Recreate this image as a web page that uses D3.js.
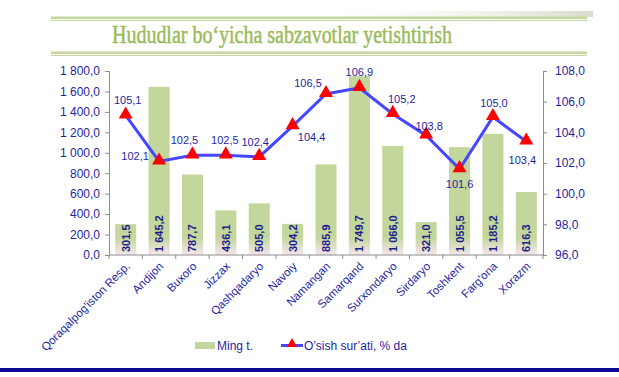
<!DOCTYPE html>
<html>
<head>
<meta charset="utf-8">
<script src="https://cdn.jsdelivr.net/npm/d3@7"></script>
<style>
  body { margin: 0; background: #fff; }
  svg { display: block; font-family: Arial, "Liberation Sans", sans-serif; }
</style>
</head>
<body>
<div id="chart"></div>
<script>
var svgWidth = 619;
var svgHeight = 377;

// data
var regions = ["Qoraqalpog'iston Resp.", "Andijon", "Buxoro", "Jizzax", "Qashqadaryo", "Navoiy",
  "Namangan", "Samarqand", "Surxondaryo", "Sirdaryo", "Toshkent", "Farg'ona", "Xorazm"];
var mingT = [301.5, 1645.2, 787.7, 436.1, 505.0, 304.2, 885.9, 1749.7, 1066.0, 321.0, 1055.5, 1185.2, 616.3];
var osish = [105.1, 102.1, 102.5, 102.5, 102.4, 104.4, 106.5, 106.9, 105.2, 103.8, 101.6, 105.0, 103.4];
var leftTicks = [0, 200, 400, 600, 800, 1000, 1200, 1400, 1600, 1800];
var rightTicks = [96, 98, 100, 102, 104, 106, 108];

// nudge of each growth label's centre from its marker (style, not data)
var labelNudge = [[2, -15], [-24, -5], [-8, -15], [-1, -15], [-4, -15], [19, 11], [-18, -11],
  [0, -16], [9, -15], [3, -9], [0, 15], [1, -14], [-4, 18]];

var margin = {top: 71, left: 109, right: 76, bottom: 122};
var width = svgWidth - margin.left - margin.right;
var height = svgHeight - margin.top - margin.bottom;

var fmt = function(v) {
  var s = d3.format(",.1f")(v);
  return s.replace(/,/g, " ").replace(".", ",");
};

var svg = d3.select("#chart").append("svg")
  .attr("width", svgWidth)
  .attr("height", svgHeight);

var defs = svg.append("defs");

// title band
var fade = defs.append("linearGradient").attr("id", "fade")
  .attr("x1", "0").attr("x2", "1").attr("y1", "0").attr("y2", "0");
fade.append("stop").attr("offset", "0").attr("stop-color", "#fff").attr("stop-opacity", 0);
fade.append("stop").attr("offset", "1").attr("stop-color", "#d9dccb");
svg.append("rect").attr("x", 300).attr("y", 11).attr("width", 293).attr("height", 6).attr("fill", "url(#fade)");

var bandColor = "#c3d69b";
[[16.5, 2.5], [20, 1], [51.5, 2.5], [55, 1]].forEach(function(l) {
  svg.append("rect").attr("x", 51).attr("y", l[0]).attr("width", 536).attr("height", l[1]).attr("fill", bandColor);
});

svg.append("text")
  .attr("x", 112).attr("y", 43)
  .attr("textLength", 340)
  .attr("lengthAdjust", "spacingAndGlyphs")
  .style("font-family", "'Liberation Serif', 'DejaVu Serif', serif")
  .style("font-size", "26px")
  .attr("fill", "#9bbb59")
  .attr("stroke", "#9bbb59")
  .attr("stroke-width", 0.5)
  .text("Hududlar bo\u2018yicha sabzavotlar yetishtirish");

var chartGroup = svg.append("g")
  .attr("transform", `translate(${margin.left}, ${margin.top})`);

var x = d3.scaleBand().domain(regions).range([0, width]).paddingInner(0.37).paddingOuter(0.185);
var xb = d3.scaleBand().domain(regions).range([0, width]);
var yLeft = d3.scaleLinear().domain([0, 1800]).range([height, 0]);
var yRight = d3.scaleLinear().domain([96, 108]).range([height, 0]);

// bar fill fades to pinkish white at the base
var barGrad = defs.append("linearGradient").attr("id", "barGrad")
  .attr("gradientUnits", "userSpaceOnUse")
  .attr("x1", 0).attr("x2", 0).attr("y1", height - 18).attr("y2", height);
barGrad.append("stop").attr("offset", "0").attr("stop-color", bandColor);
barGrad.append("stop").attr("offset", "1").attr("stop-color", "#f6e6ee");

chartGroup.selectAll(".bar")
  .data(mingT)
  .enter().append("rect")
  .attr("class", "bar")
  .attr("x", (d, i) => x(regions[i]))
  .attr("width", x.bandwidth())
  .attr("y", d => yLeft(d))
  .attr("height", d => height - yLeft(d))
  .attr("fill", "url(#barGrad)");

// bar value labels, vertical
chartGroup.selectAll(".barLabel")
  .data(mingT)
  .enter().append("text")
  .attr("transform", (d, i) => `translate(${x(regions[i]) + x.bandwidth() / 2 + 4}, ${height - 3}) rotate(-90)`)
  .attr("fill", "#1c1c8c")
  .style("font-size", "11px")
  .style("font-weight", "bold")
  .text(d => fmt(d));

// axes
var axisColor = "#8c8c8c";
var leftAxis = d3.axisLeft(yLeft).tickValues(leftTicks).tickFormat(fmt).tickSize(4).tickPadding(5);
var rightAxis = d3.axisRight(yRight).tickValues(rightTicks).tickFormat(fmt).tickSize(4).tickPadding(8);
var bottomAxis = d3.axisBottom(xb).tickSize(0).tickFormat("");

var gl = chartGroup.append("g").call(leftAxis);
var gr = chartGroup.append("g").attr("transform", `translate(${width}, 0)`).call(rightAxis);
var gb = chartGroup.append("g").attr("transform", `translate(0, ${height})`).call(bottomAxis);
[gl, gr, gb].forEach(function(g) {
  g.selectAll("path, line").attr("stroke", axisColor);
  g.selectAll("text").attr("fill", "#1f1fa3").style("font-size", "12px").style("font-family", "Arial, 'Liberation Sans', sans-serif");
});
gb.select(".domain").attr("d", `M0,0H${width}`);

// category boundary ticks on the bottom axis
gb.selectAll(".sep")
  .data(d3.range(regions.length + 1))
  .enter().append("line")
  .attr("x1", i => i * xb.step()).attr("x2", i => i * xb.step())
  .attr("y1", 0).attr("y2", 4)
  .attr("stroke", axisColor);

// category labels at 45 degrees
chartGroup.selectAll(".catLabel")
  .data(regions)
  .enter().append("text")
  .attr("transform", d => `translate(${xb(d) + xb.bandwidth() / 2 + 5}, ${height + 12}) rotate(-45)`)
  .attr("text-anchor", "end")
  .attr("fill", "#1f1fa3")
  .style("font-size", "11.5px")
  .text(d => d);

// growth line
var cx = (d, i) => xb(regions[i]) + xb.bandwidth() / 2;
var line = d3.line().x(cx).y(d => yRight(d));

chartGroup.append("path")
  .datum(osish)
  .attr("d", line)
  .attr("fill", "none")
  .attr("stroke", "#4646ff")
  .attr("stroke-width", 3);

var tri = d3.symbol().type(d3.symbolTriangle).size(85);
chartGroup.selectAll(".marker")
  .data(osish)
  .enter().append("path")
  .attr("d", tri)
  .attr("transform", (d, i) => `translate(${cx(d, i)}, ${yRight(d) - 1})`)
  .attr("fill", "#ff0000");

chartGroup.selectAll(".ptLabel")
  .data(osish)
  .enter().append("text")
  .attr("x", (d, i) => cx(d, i) + labelNudge[i][0])
  .attr("y", d => yRight(d))
  .attr("dy", (d, i) => labelNudge[i][1] + 4)
  .attr("text-anchor", "middle")
  .attr("fill", "#1f1fa3")
  .style("font-size", "11px")
  .text(d => fmt(d));

// legend
var legend = svg.append("g");
legend.append("rect").attr("x", 195).attr("y", 342).attr("width", 20).attr("height", 7).attr("fill", bandColor);
legend.append("text").attr("x", 217).attr("y", 350).attr("fill", "#1f1fa3").style("font-size", "12px").text("Ming t.");
legend.append("line").attr("x1", 281).attr("x2", 303).attr("y1", 345.5).attr("y2", 345.5)
  .attr("stroke", "#4646ff").attr("stroke-width", 3);
legend.append("path").attr("d", d3.symbol().type(d3.symbolTriangle).size(45))
  .attr("transform", "translate(292, 344)").attr("fill", "#ff0000");
legend.append("text").attr("x", 304).attr("y", 350).attr("fill", "#1f1fa3").style("font-size", "12px").text("O\u2019sish sur\u2019ati, % da");

// footer rule
svg.append("rect").attr("x", 0).attr("y", 368).attr("width", svgWidth).attr("height", 4).attr("fill", "#0a0a96");
</script>
</body>
</html>
